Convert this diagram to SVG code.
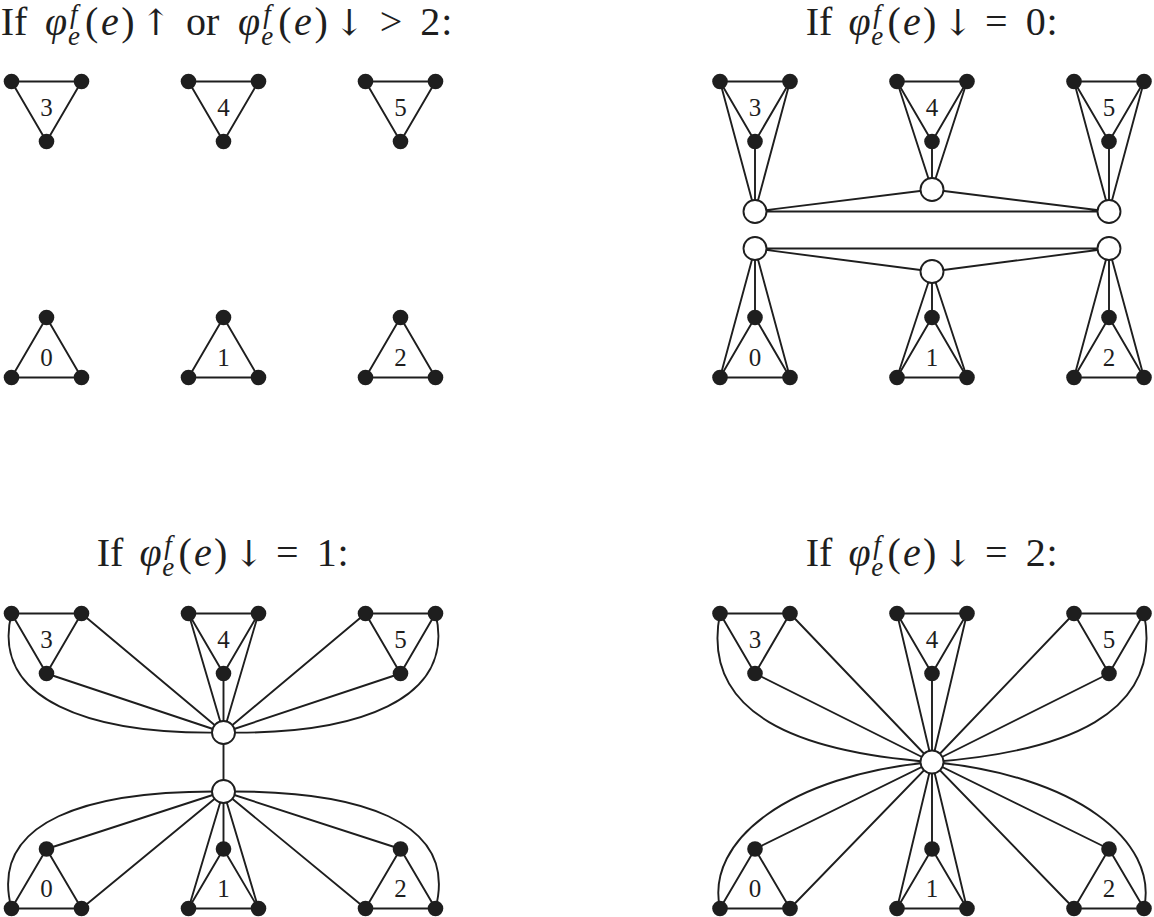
<svg xmlns="http://www.w3.org/2000/svg" width="1154" height="917" viewBox="0 0 1154 917">
<style>
.e{stroke:#1e1e1e;stroke-width:1.9;fill:none;stroke-linejoin:round}
.d{fill:#1e1e1e}
.o{fill:#fff;stroke:#1e1e1e;stroke-width:1.9}
.l{font-family:"Liberation Serif",serif;font-size:25px;text-anchor:middle;fill:#1e1e1e}
.t{font-family:"Liberation Serif",serif;font-size:40px;fill:#1e1e1e}
.i{font-style:italic}
.s{font-style:italic;font-size:27px}
.a{font-family:"DejaVu Serif",serif;font-size:36px}
</style>
<rect width="1154" height="917" fill="#fff"/>
<g id="titles">
<text class="t" y="35"><tspan x="0.8">If</tspan><tspan class="i" x="44.9">φ</tspan><tspan class="s" x="70" y="23">f</tspan><tspan class="s" x="68" y="45">e</tspan><tspan x="84.9" y="35">(</tspan><tspan class="i" x="100.9">e</tspan><tspan x="121.3">)</tspan><tspan class="a" x="140.5">↑</tspan><tspan x="185.9">or</tspan><tspan class="i" x="238.1">φ</tspan><tspan class="s" x="263.2" y="23">f</tspan><tspan class="s" x="261.2" y="45">e</tspan><tspan x="278.2" y="35">(</tspan><tspan class="i" x="294.1">e</tspan><tspan x="314.6">)</tspan><tspan class="a" x="334">↓</tspan><tspan x="379.8">&gt;</tspan><tspan x="420.3">2</tspan><tspan x="441.2">:</tspan></text>
<text class="t" y="35"><tspan x="805.8">If</tspan><tspan class="i" x="848.5">φ</tspan><tspan class="s" x="873.2" y="23">f</tspan><tspan class="s" x="871.2" y="45">e</tspan><tspan x="887.6" y="35">(</tspan><tspan class="i" x="903">e</tspan><tspan x="923.1">)</tspan><tspan class="a" x="942.5">↓</tspan><tspan x="985">=</tspan><tspan x="1025.8">0</tspan><tspan x="1046.4">:</tspan></text>
<text class="t" y="566"><tspan x="96.8">If</tspan><tspan class="i" x="139.5">φ</tspan><tspan class="s" x="164.2" y="554">f</tspan><tspan class="s" x="162.2" y="576">e</tspan><tspan x="178.6" y="566">(</tspan><tspan class="i" x="194">e</tspan><tspan x="214.1">)</tspan><tspan class="a" x="233.5">↓</tspan><tspan x="276">=</tspan><tspan x="316.8">1</tspan><tspan x="337.4">:</tspan></text>
<text class="t" y="566"><tspan x="805.8">If</tspan><tspan class="i" x="848.5">φ</tspan><tspan class="s" x="873.2" y="554">f</tspan><tspan class="s" x="871.2" y="576">e</tspan><tspan x="887.6" y="566">(</tspan><tspan class="i" x="903">e</tspan><tspan x="923.1">)</tspan><tspan class="a" x="942.5">↓</tspan><tspan x="985">=</tspan><tspan x="1025.8">2</tspan><tspan x="1046.4">:</tspan></text>
</g>
<g id="connectors" class="e">
<polygon points="11.5,81.5 81.5,81.5 46.5,141.5"/>
<polygon points="188.5,81.5 258.5,81.5 223.5,141.5"/>
<polygon points="365.5,81.5 435.5,81.5 400.5,141.5"/>
<polygon points="46.5,317.5 11.5,377.5 81.5,377.5"/>
<polygon points="223.5,317.5 188.5,377.5 258.5,377.5"/>
<polygon points="400.5,317.5 365.5,377.5 435.5,377.5"/>
<polygon points="720,81.5 790,81.5 755,141.5"/>
<polygon points="897,81.5 967,81.5 932,141.5"/>
<polygon points="1074,81.5 1144,81.5 1109,141.5"/>
<polygon points="755,317.5 720,377.5 790,377.5"/>
<polygon points="932,317.5 897,377.5 967,377.5"/>
<polygon points="1109,317.5 1074,377.5 1144,377.5"/>
<path d="M720,81.5L755,211.5L790,81.5M755,141.5V211.5"/>
<path d="M897,81.5L932,189.5L967,81.5M932,141.5V189.5"/>
<path d="M1074,81.5L1109,211.5L1144,81.5M1109,141.5V211.5"/>
<path d="M755,211.5L932,189.5L1109,211.5Z"/>
<path d="M755,248.5L932,271.5L1109,248.5Z"/>
<path d="M720,377.5L755,248.5L790,377.5M755,317.5V248.5"/>
<path d="M897,377.5L932,271.5L967,377.5M932,317.5V271.5"/>
<path d="M1074,377.5L1109,248.5L1144,377.5M1109,317.5V248.5"/>
<polygon points="11.5,613.5 81.5,613.5 46.5,673.5"/>
<polygon points="188.5,613.5 258.5,613.5 223.5,673.5"/>
<polygon points="365.5,613.5 435.5,613.5 400.5,673.5"/>
<polygon points="46.5,849 11.5,908.5 81.5,908.5"/>
<polygon points="223.5,849 188.5,908.5 258.5,908.5"/>
<polygon points="400.5,849 365.5,908.5 435.5,908.5"/>
<path d="M223.5,732.5L81.5,613.5M223.5,732.5L46.5,673.5M223.5,732.5L188.5,613.5M223.5,732.5L258.5,613.5M223.5,732.5V673.5M223.5,732.5L365.5,613.5M223.5,732.5L400.5,673.5M223.5,732.5V791.5"/>
<path d="M11.5,613.5C-10,700 90,735 223.5,732.5M435.5,613.5C457,700 357,735 223.5,732.5"/>
<path d="M223.5,791.5L46.5,849M223.5,791.5L81.5,908.5M223.5,791.5L188.5,908.5M223.5,791.5V849M223.5,791.5L258.5,908.5M223.5,791.5L400.5,849M223.5,791.5L365.5,908.5"/>
<path d="M11.5,908.5C-12,820 90,790 223.5,791.5M435.5,908.5C459,820 357,790 223.5,791.5"/>
<polygon points="720,613.5 790,613.5 755,673.5"/>
<polygon points="897,613.5 967,613.5 932,673.5"/>
<polygon points="1074,613.5 1144,613.5 1109,673.5"/>
<polygon points="755,849 720,908.5 790,908.5"/>
<polygon points="932,849 897,908.5 967,908.5"/>
<polygon points="1109,849 1074,908.5 1144,908.5"/>
<path d="M932,762L790,613.5M932,762L755,673.5M932,762L897,613.5M932,762L967,613.5M932,762V673.5M932,762L1074,613.5M932,762L1109,673.5"/>
<path d="M932,762L755,849M932,762L790,908.5M932,762L897,908.5M932,762V849M932,762L967,908.5M932,762L1109,849M932,762L1074,908.5"/>
<path d="M720,613.5C700,715 800,752 932,762M1144,613.5C1164,715 1064,752 932,762"/>
<path d="M720,908.5C705,840 790,775 932,762M1144,908.5C1159,840 1074,775 932,762"/>
</g>
<g id="p1-t3"><circle class="d" cx="11.5" cy="81.5" r="7.8"/><circle class="d" cx="81.5" cy="81.5" r="7.8"/><circle class="d" cx="46.5" cy="141.5" r="7.8"/><text class="l" x="46.5" y="116">3</text></g>
<g id="p1-t4"><circle class="d" cx="188.5" cy="81.5" r="7.8"/><circle class="d" cx="258.5" cy="81.5" r="7.8"/><circle class="d" cx="223.5" cy="141.5" r="7.8"/><text class="l" x="223.5" y="116">4</text></g>
<g id="p1-t5"><circle class="d" cx="365.5" cy="81.5" r="7.8"/><circle class="d" cx="435.5" cy="81.5" r="7.8"/><circle class="d" cx="400.5" cy="141.5" r="7.8"/><text class="l" x="400.5" y="116">5</text></g>
<g id="p1-t0"><circle class="d" cx="46.5" cy="317.5" r="7.8"/><circle class="d" cx="11.5" cy="377.5" r="7.8"/><circle class="d" cx="81.5" cy="377.5" r="7.8"/><text class="l" x="46.5" y="366">0</text></g>
<g id="p1-t1"><circle class="d" cx="223.5" cy="317.5" r="7.8"/><circle class="d" cx="188.5" cy="377.5" r="7.8"/><circle class="d" cx="258.5" cy="377.5" r="7.8"/><text class="l" x="223.5" y="366">1</text></g>
<g id="p1-t2"><circle class="d" cx="400.5" cy="317.5" r="7.8"/><circle class="d" cx="365.5" cy="377.5" r="7.8"/><circle class="d" cx="435.5" cy="377.5" r="7.8"/><text class="l" x="400.5" y="366">2</text></g>
<g id="p2-t3"><circle class="d" cx="720" cy="81.5" r="7.8"/><circle class="d" cx="790" cy="81.5" r="7.8"/><circle class="d" cx="755" cy="141.5" r="7.8"/><text class="l" x="755" y="116">3</text></g>
<g id="p2-t4"><circle class="d" cx="897" cy="81.5" r="7.8"/><circle class="d" cx="967" cy="81.5" r="7.8"/><circle class="d" cx="932" cy="141.5" r="7.8"/><text class="l" x="932" y="116">4</text></g>
<g id="p2-t5"><circle class="d" cx="1074" cy="81.5" r="7.8"/><circle class="d" cx="1144" cy="81.5" r="7.8"/><circle class="d" cx="1109" cy="141.5" r="7.8"/><text class="l" x="1109" y="116">5</text></g>
<g id="p2-t0"><circle class="d" cx="755" cy="317.5" r="7.8"/><circle class="d" cx="720" cy="377.5" r="7.8"/><circle class="d" cx="790" cy="377.5" r="7.8"/><text class="l" x="755" y="366">0</text></g>
<g id="p2-t1"><circle class="d" cx="932" cy="317.5" r="7.8"/><circle class="d" cx="897" cy="377.5" r="7.8"/><circle class="d" cx="967" cy="377.5" r="7.8"/><text class="l" x="932" y="366">1</text></g>
<g id="p2-t2"><circle class="d" cx="1109" cy="317.5" r="7.8"/><circle class="d" cx="1074" cy="377.5" r="7.8"/><circle class="d" cx="1144" cy="377.5" r="7.8"/><text class="l" x="1109" y="366">2</text></g>
<g id="p2-hA"><circle class="o" cx="755" cy="211.5" r="11.5"/></g>
<g id="p2-hB"><circle class="o" cx="932" cy="189.5" r="11.5"/></g>
<g id="p2-hC"><circle class="o" cx="1109" cy="211.5" r="11.5"/></g>
<g id="p2-hD"><circle class="o" cx="755" cy="248.5" r="11.5"/></g>
<g id="p2-hE"><circle class="o" cx="932" cy="271.5" r="11.5"/></g>
<g id="p2-hF"><circle class="o" cx="1109" cy="248.5" r="11.5"/></g>
<g id="p3-t3"><circle class="d" cx="11.5" cy="613.5" r="7.8"/><circle class="d" cx="81.5" cy="613.5" r="7.8"/><circle class="d" cx="46.5" cy="673.5" r="7.8"/><text class="l" x="46.5" y="648">3</text></g>
<g id="p3-t4"><circle class="d" cx="188.5" cy="613.5" r="7.8"/><circle class="d" cx="258.5" cy="613.5" r="7.8"/><circle class="d" cx="223.5" cy="673.5" r="7.8"/><text class="l" x="223.5" y="648">4</text></g>
<g id="p3-t5"><circle class="d" cx="365.5" cy="613.5" r="7.8"/><circle class="d" cx="435.5" cy="613.5" r="7.8"/><circle class="d" cx="400.5" cy="673.5" r="7.8"/><text class="l" x="400.5" y="648">5</text></g>
<g id="p3-t0"><circle class="d" cx="46.5" cy="849" r="7.8"/><circle class="d" cx="11.5" cy="908.5" r="7.8"/><circle class="d" cx="81.5" cy="908.5" r="7.8"/><text class="l" x="46.5" y="897">0</text></g>
<g id="p3-t1"><circle class="d" cx="223.5" cy="849" r="7.8"/><circle class="d" cx="188.5" cy="908.5" r="7.8"/><circle class="d" cx="258.5" cy="908.5" r="7.8"/><text class="l" x="223.5" y="897">1</text></g>
<g id="p3-t2"><circle class="d" cx="400.5" cy="849" r="7.8"/><circle class="d" cx="365.5" cy="908.5" r="7.8"/><circle class="d" cx="435.5" cy="908.5" r="7.8"/><text class="l" x="400.5" y="897">2</text></g>
<g id="p3-hP"><circle class="o" cx="223.5" cy="732.5" r="11.5"/></g>
<g id="p3-hQ"><circle class="o" cx="223.5" cy="791.5" r="11.5"/></g>
<g id="p4-t3"><circle class="d" cx="720" cy="613.5" r="7.8"/><circle class="d" cx="790" cy="613.5" r="7.8"/><circle class="d" cx="755" cy="673.5" r="7.8"/><text class="l" x="755" y="648">3</text></g>
<g id="p4-t4"><circle class="d" cx="897" cy="613.5" r="7.8"/><circle class="d" cx="967" cy="613.5" r="7.8"/><circle class="d" cx="932" cy="673.5" r="7.8"/><text class="l" x="932" y="648">4</text></g>
<g id="p4-t5"><circle class="d" cx="1074" cy="613.5" r="7.8"/><circle class="d" cx="1144" cy="613.5" r="7.8"/><circle class="d" cx="1109" cy="673.5" r="7.8"/><text class="l" x="1109" y="648">5</text></g>
<g id="p4-t0"><circle class="d" cx="755" cy="849" r="7.8"/><circle class="d" cx="720" cy="908.5" r="7.8"/><circle class="d" cx="790" cy="908.5" r="7.8"/><text class="l" x="755" y="897">0</text></g>
<g id="p4-t1"><circle class="d" cx="932" cy="849" r="7.8"/><circle class="d" cx="897" cy="908.5" r="7.8"/><circle class="d" cx="967" cy="908.5" r="7.8"/><text class="l" x="932" y="897">1</text></g>
<g id="p4-t2"><circle class="d" cx="1109" cy="849" r="7.8"/><circle class="d" cx="1074" cy="908.5" r="7.8"/><circle class="d" cx="1144" cy="908.5" r="7.8"/><text class="l" x="1109" y="897">2</text></g>
<g id="p4-hub"><circle class="o" cx="932" cy="762" r="11.5"/></g>
</svg>
